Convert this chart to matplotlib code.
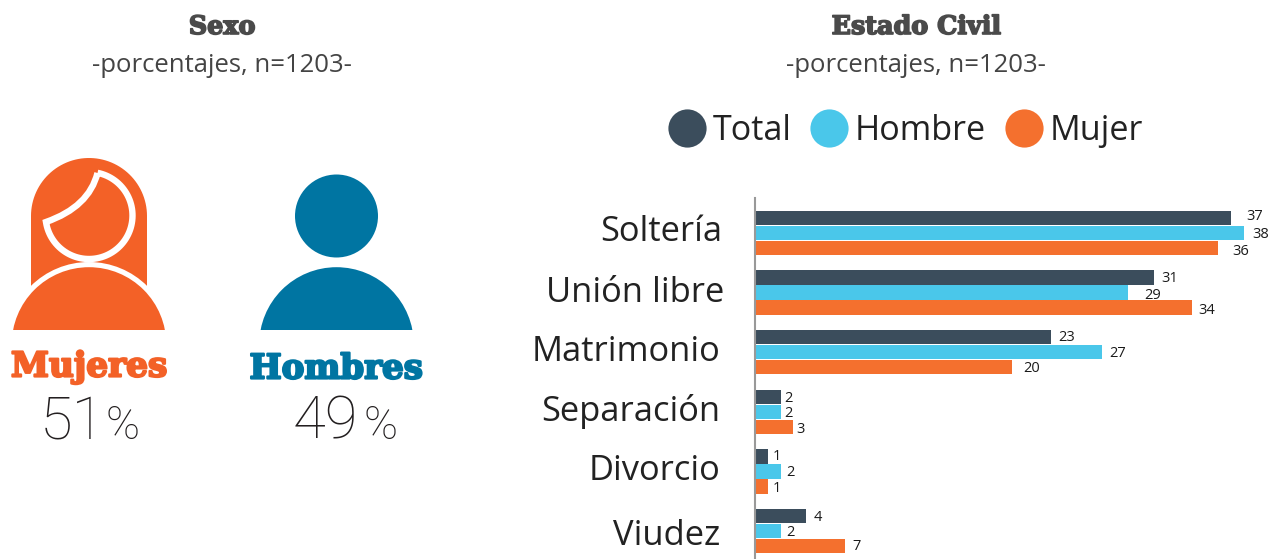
import numpy as np
import matplotlib
matplotlib.use("Agg")
import matplotlib.pyplot as plt
from matplotlib.patches import Circle, PathPatch, Rectangle
from matplotlib.path import Path
from matplotlib.lines import Line2D
from matplotlib.transforms import ScaledTranslation
import matplotlib.patheffects as pe

categories = ["Soltería", "Unión libre", "Matrimonio", "Separación", "Divorcio", "Viudez"]
total = [37, 31, 23, 2, 1, 4]
hombre = [38, 29, 27, 2, 2, 2]
mujer = [36, 34, 20, 3, 1, 7]
series_names = ["Total", "Hombre", "Mujer"]
sexo_labels = ["Mujeres", "Hombres"]
sexo_values = [51, 49]

C_TOTAL, C_HOMBRE, C_MUJER = "#3B4D5C", "#4AC7EA", "#F4702E"
C_W, C_M = "#F36127", "#0075A2"
W, H = 1270, 559
SANS = ["Open Sans", "DejaVu Sans"]
LIGHT = ["Roboto", "DejaVu Sans"]
plt.rcParams["font.family"] = SANS

fig = plt.figure(figsize=(W / 100, H / 100), dpi=100, facecolor="white")

# pixel overlay for the pictograms and headings
bg = fig.add_axes([0, 0, 1, 1])
bg.set_xlim(0, W)
bg.set_ylim(H, 0)
bg.axis("off")


def body(cx, color, zorder=3):
    clip = Rectangle((0, 0), W, 330, transform=bg.transData)
    c = Circle((cx, 344.5), 77.3, fc=color, ec="none", zorder=zorder)
    bg.add_patch(c)
    c.set_clip_path(clip)


# woman
t = np.linspace(np.pi, 2 * np.pi, 60)
hx = list(89 + 58 * np.cos(t)) + [147, 31]
hy = list(216 + 58 * np.sin(t)) + [290, 290]
bg.fill(hx, hy, color=C_W, lw=0, zorder=1)
clip_w = Rectangle((0, 0), W, 330, transform=bg.transData)
ring = Circle((89, 344.5), 82.5, fc="white", ec="none", zorder=2)
bg.add_patch(ring)
ring.set_clip_path(clip_w)
body(89, C_W)
# face outline with fringe
CY = 215.5
a0 = np.arctan2(173 - CY, 97.5 - 89)
a1 = np.arctan2(222 - CY, 46 - 89)
angles = np.linspace(a0, a1, 80)
verts = [(89 + 43.5 * np.cos(a), CY + 43.5 * np.sin(a)) for a in angles]
codes = [Path.MOVETO] + [Path.LINETO] * (len(verts) - 1)
verts += [(89, 207), (97.5, 173)]
codes += [Path.CURVE3, Path.CURVE3]
bg.add_patch(PathPatch(Path(verts, codes), fc=C_W, ec="white", lw=4.6,
                       joinstyle="miter", zorder=1.5))
# man
bg.add_patch(Circle((336.5, 216), 41.5, fc=C_M, ec="none", zorder=3))
body(336.5, C_M)

SLAB = dict(family="DejaVu Serif", weight="bold", ha="center", va="center")
for x, s in [(222, "Sexo"), (916, "Estado Civil")]:
    bg.text(x, 27, s, fontsize=18.3, color="#4A4A4A", zorder=5,
            path_effects=[pe.withStroke(linewidth=1.2, foreground="#4A4A4A")], **SLAB)
for x in (222, 916):
    bg.text(x, 65, "-porcentajes, n=1203-", fontsize=18.5, color="#444444",
            ha="center", va="center", family=SANS)

for x, y, s, c, fs in zip((89, 336), (367, 369), sexo_labels, (C_W, C_M), (24.7, 24.5)):
    bg.text(x, y, s, fontsize=fs, color=c,
            path_effects=[pe.withStroke(linewidth=1.6, foreground=c)], **SLAB)
for xd, xp, v in zip((105, 358), (106, 363), sexo_values):
    bg.text(xd, 422, f"{v}", fontsize=43, color="#231F20", ha="right", va="center",
            family=LIGHT, weight="light")
    bg.text(xp, 426, "%", fontsize=33, color="#231F20", ha="left", va="center",
            family=LIGHT, weight="light")

# bar chart
PX_UNIT = 12.87
GROUP = 59.6
LEFT = 754.8
TOP, BOTTOM = 198, 559
ax = fig.add_axes([LEFT / W, 0, (W - LEFT) / W, (BOTTOM - TOP) / H])
ax.patch.set_alpha(0)
ax.set_xlim(0, (W - LEFT) / PX_UNIT)
ax.set_ylim((BOTTOM - 233) / GROUP, -(233 - TOP) / GROUP)
y = np.arange(len(categories))
step = 15 / GROUP
bh = 14.3 / GROUP
series = [total, hombre, mujer]
colors = [C_TOTAL, C_HOMBRE, C_MUJER]
# hand-placed label offsets of the original, in pixels
gaps = [[15, 8, 7, 4, 5, 7], [8, 16, 7, 4, 6, 6], [14, 6, 11, 3, 5, 7]]
lifts = [[1.5, -0.5, -0.5, -1.5, -0.5, -1.5], [-1.5, -2.5, -1.5, -1.5, -1.5, -1.5], [-3.5, -2.5, -1.5, -2.5, -2.5, -0.5]]
for k, (vals, col, gp, lf) in enumerate(zip(series, colors, gaps, lifts)):
    off = (k - 1) * step
    ax.barh(y + off, vals, height=bh, color=col, linewidth=0, label=series_names[k])
    for yi, v, g, l in zip(y, vals, gp, lf):
        ax.annotate(str(v), (v, yi + off), xytext=(g * 0.72, l * 0.72), textcoords="offset points",
                    fontsize=10.5, color="#1A1A1A", va="center", ha="left")
for s in ("top", "right", "bottom"):
    ax.spines[s].set_visible(False)
ax.spines["left"].set_color("#999999")
ax.spines["left"].set_linewidth(1.5)
ax.xaxis.set_visible(False)
ax.set_yticks(y, categories, fontsize=24.8, color="#222222")
ax.tick_params(axis="y", length=0, pad=25)
for lab, dx, dy in zip(ax.get_yticklabels(), [1.5, 3, 0.5, 0.5, 0, 0], [3.5, 2.5, 3, 3, 3, -0.5]):
    lab.set_transform(lab.get_transform() + ScaledTranslation(dx / 72, dy / 72, fig.dpi_scale_trans))

handles = [Line2D([], [], ls="none", marker="o", ms=27.5, mfc=c, mec="none") for c in colors]
fig.legend(handles, series_names, loc="center", bbox_to_anchor=(903 / W, 1 - 131 / H), ncol=3,
           frameon=False, fontsize=24.6, handletextpad=0.05, columnspacing=0.41, labelcolor="#222222",
           handlelength=1.4)

fig.savefig("out.png", dpi=100)
